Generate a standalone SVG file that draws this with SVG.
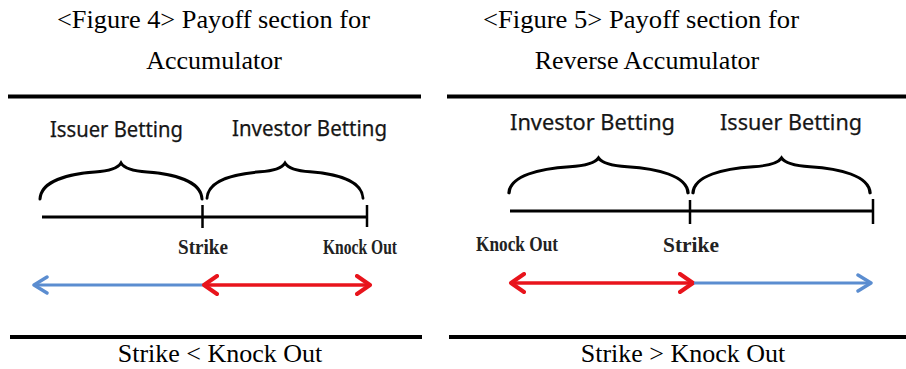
<svg xmlns="http://www.w3.org/2000/svg" width="906" height="369" viewBox="0 0 906 369">
<style>
.cap{font-family:"Liberation Serif","Times New Roman",serif;font-size:26px;fill:#000;text-anchor:middle}
.bet{font-family:"Noto Sans","Liberation Sans",sans-serif;font-size:21px;fill:#161616;stroke:#161616;stroke-width:0.25}
.pt{font-family:"Liberation Serif",serif;font-weight:bold;font-size:22px;fill:#222}
.rule{stroke:#000;stroke-width:4}
.brace{fill:none;stroke:#000;stroke-width:3;stroke-linecap:round}
.axis{stroke:#000;stroke-width:3}
.tick{stroke:#000;stroke-width:2.5}
.blue{stroke:#5b8dd0;stroke-width:3;fill:none}
.red{stroke:#e8141c;stroke-width:3.6;fill:none}
</style>
<defs>
<path id="br" d="M0,36 C1,18 28,11 55,9 C70,8 78,5 81,0 C84,5 92,8 107,9 C134,11 161,18 162,36"/>
<marker id="mb" viewBox="0 0 18 20" refX="15" refY="10" markerWidth="18" markerHeight="20" markerUnits="userSpaceOnUse" orient="auto-start-reverse">
<path d="M2,2 L15,10 L2,18" fill="none" stroke="#5b8dd0" stroke-width="3.4" stroke-linecap="round" stroke-linejoin="round"/>
</marker>
<marker id="mr" viewBox="0 0 18 22" refX="15" refY="11" markerWidth="18" markerHeight="22" markerUnits="userSpaceOnUse" orient="auto-start-reverse">
<path d="M2,2 L15,11 L2,20" fill="none" stroke="#e8141c" stroke-width="4" stroke-linecap="round" stroke-linejoin="round"/>
</marker>
</defs>

<g id="header-left">
<text class="cap" x="213.5" y="28" textLength="313" lengthAdjust="spacingAndGlyphs">&lt;Figure 4&gt; Payoff section for</text>
<text class="cap" x="214" y="69">Accumulator</text>
</g>
<g id="header-right">
<text class="cap" x="641" y="28" textLength="316" lengthAdjust="spacingAndGlyphs">&lt;Figure 5&gt; Payoff section for</text>
<text class="cap" x="647" y="69">Reverse Accumulator</text>
</g>

<g id="rules">
<line class="rule" x1="8" y1="96.5" x2="421" y2="96.5"/>
<line class="rule" x1="447" y1="96.5" x2="906" y2="96.5"/>
<line class="rule" x1="10" y1="337" x2="422" y2="337"/>
<line class="rule" x1="449" y1="337" x2="906" y2="337"/>
</g>

<g id="fig4">
<g id="fig4-issuer">
<text class="bet" x="50" y="137" textLength="133" lengthAdjust="spacingAndGlyphs">Issuer Betting</text>
<use href="#br" class="brace" transform="translate(40,163)"/>
</g>
<g id="fig4-investor">
<text class="bet" x="232" y="136" textLength="155" lengthAdjust="spacingAndGlyphs">Investor Betting</text>
<use href="#br" class="brace" transform="translate(207,163) scale(0.963,0.98)"/>
</g>
<g id="fig4-axis">
<line class="axis" x1="42" y1="217" x2="368" y2="217"/>
<line class="tick" x1="202.5" y1="205" x2="202.5" y2="228"/>
<line class="tick" x1="367" y1="205" x2="367" y2="227"/>
<text class="pt" x="178" y="254" textLength="50" lengthAdjust="spacingAndGlyphs">Strike</text>
<text class="pt" x="323" y="254" textLength="74" lengthAdjust="spacingAndGlyphs">Knock Out</text>
</g>
</g>

<g id="fig5">
<g id="fig5-investor">
<text class="bet" x="510" y="130" font-size="22" textLength="165" lengthAdjust="spacingAndGlyphs">Investor Betting</text>
<use href="#br" class="brace" transform="translate(509,158) scale(1.105,0.97)"/>
</g>
<g id="fig5-issuer">
<text class="bet" x="720" y="130" font-size="22" textLength="142" lengthAdjust="spacingAndGlyphs">Issuer Betting</text>
<use href="#br" class="brace" transform="translate(693,158) scale(1.093,0.97)"/>
</g>
<g id="fig5-axis">
<line class="axis" x1="510" y1="211" x2="873" y2="211"/>
<line class="tick" x1="690" y1="200" x2="690" y2="224"/>
<line class="tick" x1="873" y1="199" x2="873" y2="224"/>
<text class="pt" x="476" y="251" textLength="82" lengthAdjust="spacingAndGlyphs">Knock Out</text>
<text class="pt" x="663" y="252" textLength="56" lengthAdjust="spacingAndGlyphs">Strike</text>
</g>
</g>

<g id="connectors">
<line class="blue" x1="203" y1="285" x2="34" y2="285" marker-end="url(#mb)"/>
<line class="red" x1="204" y1="285" x2="370" y2="285" marker-start="url(#mr)" marker-end="url(#mr)"/>
<line class="red" x1="511" y1="283" x2="693" y2="283" marker-start="url(#mr)" marker-end="url(#mr)"/>
<line class="blue" x1="694" y1="283" x2="871" y2="283" marker-end="url(#mb)"/>
</g>

<g id="footer">
<text class="cap" x="220" y="362">Strike &lt; Knock Out</text>
<text class="cap" x="683" y="362">Strike &gt; Knock Out</text>
</g>
</svg>
